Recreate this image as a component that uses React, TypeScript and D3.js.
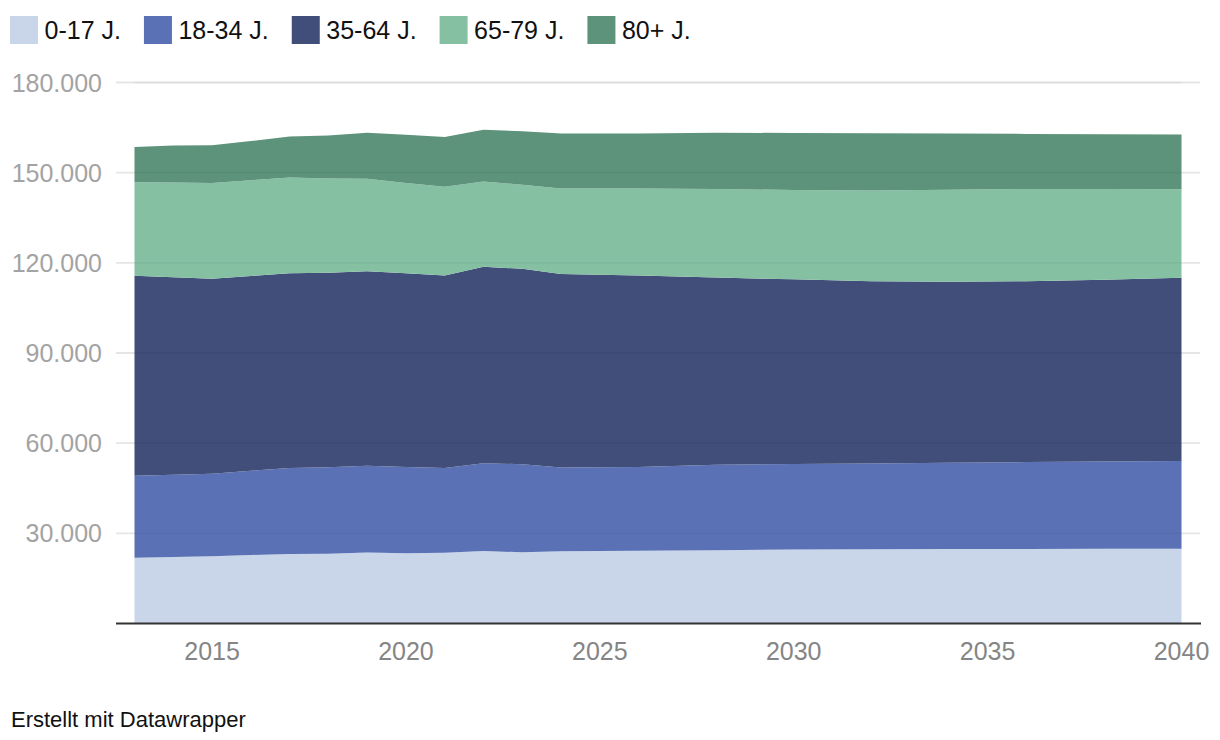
import * as d3 from "d3";

// Einwohner nach Altersgruppen, 2013-2040
const years = [2013, 2014, 2015, 2016, 2017, 2018, 2019, 2020, 2021, 2022, 2023, 2024, 2026, 2028, 2030, 2032, 2034, 2036, 2038, 2040];

const age0to17 = [21900, 22100, 22400, 22800, 23100, 23200, 23600, 23400, 23500, 24100, 23700, 24000, 24200, 24400, 24600, 24700, 24800, 24800, 24900, 24900];
const age18to34 = [27300, 27400, 27400, 28000, 28600, 28800, 28900, 28700, 28200, 29200, 29300, 27900, 27900, 28400, 28500, 28500, 28700, 28900, 29000, 29200];
const age35to64 = [66500, 65700, 64900, 64800, 64800, 64700, 64700, 64400, 64100, 65400, 65000, 64400, 63700, 62300, 61400, 60700, 60200, 60200, 60500, 60900];
const age65to79 = [31100, 31500, 31900, 31900, 31900, 31400, 30800, 30100, 29500, 28400, 28000, 28400, 28900, 29500, 29700, 30200, 30600, 30700, 30200, 29500];
const age80plus = [11700, 12300, 12500, 13000, 13600, 14300, 15300, 16000, 16600, 17200, 17800, 18300, 18300, 18700, 19000, 19000, 18700, 18300, 18200, 18200];

const seriesNames = ["0-17 J.", "18-34 J.", "35-64 J.", "65-79 J.", "80+ J."];
const seriesValues = [age0to17, age18to34, age35to64, age65to79, age80plus];
const colors = ["#c9d6ea", "#5a72b5", "#414e7a", "#85c0a3", "#5c937a"];

const yTicks = [30000, 60000, 90000, 120000, 150000, 180000];
const xTicks = [2015, 2020, 2025, 2030, 2035, 2040];

const W = 1220;
const H = 740;
const FONT = "'Liberation Sans', Arial, Helvetica, sans-serif";

const de = d3.formatLocale({ decimal: ",", thousands: ".", grouping: [3], currency: ["", " €"] });
const fmt = de.format(",d");

function measure(text: string, size: number) {
  const ctx = document.createElement("canvas").getContext("2d");
  if (!ctx) return text.length * size * 0.55;
  ctx.font = `${size}px ${FONT}`;
  return ctx.measureText(text).width;
}

export default function App() {
  const x = d3.scaleLinear().domain([2013, 2040]).range([134.5, 1181.5]);
  const y = d3.scaleLinear().domain([0, 180000]).range([623.5, 82.5]);

  const rows = years.map((yr, i) => {
    const r: Record<string, number> = { year: yr };
    seriesNames.forEach((n, j) => (r[n] = seriesValues[j][i]));
    return r;
  });

  const stacked = d3.stack<Record<string, number>>().keys(seriesNames)(rows);

  const area = d3
    .area<d3.SeriesPoint<Record<string, number>>>()
    .x((d) => x(d.data.year))
    .y0((d) => y(d[0]))
    .y1((d) => y(d[1]));

  // legend layout
  let lx = 10;
  const legend = seriesNames.map((n, i) => {
    const item = { name: n, x: lx, color: colors[i] };
    lx += 34.5 + measure(n, 25) + 23;
    return item;
  });

  return (
    <svg width={W} height={H} style={{ position: "absolute", left: 0, top: 0, background: "#fff" }} fontFamily={FONT}>
      {legend.map((l) => (
        <g key={l.name}>
          <rect x={l.x} y={16} width={28} height={28} fill={l.color} />
          <text x={l.x + 34.5} y={38.5} fontSize={25} fill="#111">
            {l.name}
          </text>
        </g>
      ))}

      {yTicks.map((t) => (
        <line key={t} x1={116} x2={1200} y1={y(t)} y2={y(t)} stroke="#e5e5e5" strokeWidth={1.8} />
      ))}

      {stacked.map((s, i) => (
        <path key={s.key} d={area(s) || ""} fill={colors[i]} />
      ))}

      {yTicks.map((t) => (
        <line key={"o" + t} x1={134.5} x2={1181.5} y1={y(t)} y2={y(t)} stroke="#000" strokeOpacity={0.04} strokeWidth={1.8} />
      ))}

      {yTicks.map((t) => (
        <text key={"l" + t} x={102} y={y(t)} dy="0.36em" textAnchor="end" fontSize={25} fill="#a3a3a3">
          {fmt(t)}
        </text>
      ))}

      <line x1={116} x2={1201} y1={623.5} y2={623.5} stroke="#333" strokeWidth={2} />

      {xTicks.map((t) => (
        <text key={t} x={x(t)} y={660} textAnchor="middle" fontSize={25} fill="#858585">
          {t}
        </text>
      ))}

      <text x={11} y={727} fontSize={22} fill="#111">
        Erstellt mit Datawrapper
      </text>
    </svg>
  );
}
